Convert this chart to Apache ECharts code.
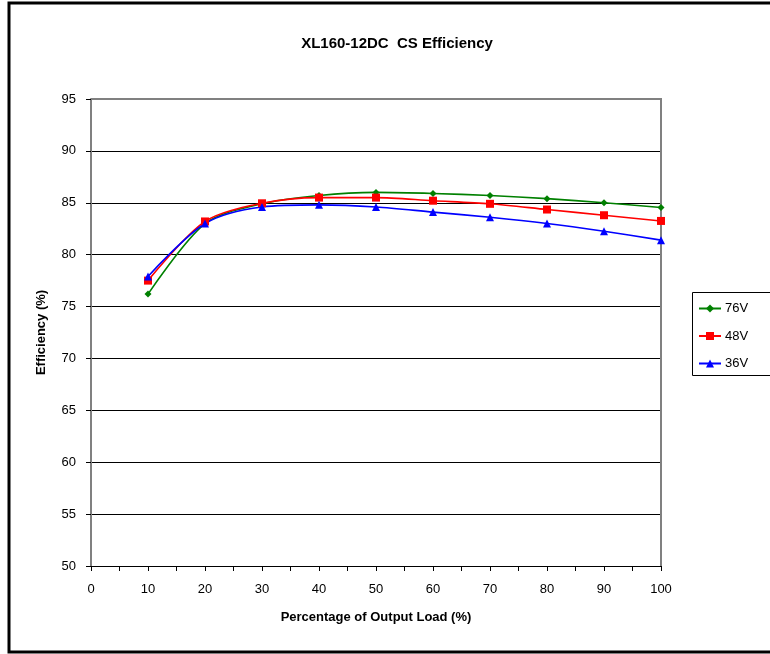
<!DOCTYPE html>
<html>
<head>
<meta charset="utf-8">
<script src="https://cdn.jsdelivr.net/npm/echarts@6/dist/echarts.min.js"></script>
<style>html,body{margin:0;padding:0;background:#fff}#c{width:770px;height:654px}</style>
</head>
<body>
<div id="c"></div>
<script>
const loads = [10, 20, 30, 40, 50, 60, 70, 80, 90, 100];
const v76 = [76.2, 83.0, 84.9, 85.7, 86.0, 85.9, 85.7, 85.4, 85.0, 84.55];
const v48 = [77.5, 83.2, 84.95, 85.5, 85.5, 85.2, 84.9, 84.35, 83.8, 83.25];
const v36 = [77.9, 83.0, 84.6, 84.8, 84.6, 84.1, 83.6, 83.0, 82.25, 81.4];
const seriesNames = ['76V', '48V', '36V'];
const titleText = 'XL160-12DC  CS Efficiency';
const xName = 'Percentage of Output Load (%)';
const yName = 'Efficiency (%)';

const pairs = arr => loads.map((x, i) => [x, arr[i]]);
const font = 'Arial, "Liberation Sans", sans-serif';
const chart = echarts.init(document.getElementById('c'), null, {renderer: 'canvas'});

function mkSeries(name, data, color, symbol, size) {
  return {
    name, type: 'line', data: pairs(data), smooth: 0.3,
    symbol, symbolSize: size, z: 3,
    lineStyle: {color, width: 1.6},
    itemStyle: {color, borderWidth: 0},
    emphasis: {disabled: true}
  };
}

chart.setOption({
  animation: false,
  backgroundColor: '#fff',
  title: {
    text: titleText, left: 392, top: 31, textAlign: 'center',
    textStyle: {fontFamily: font, fontSize: 15, fontWeight: 'bold', color: '#000'}
  },
  legend: {
    orient: 'vertical', left: 692, top: 293,
    itemWidth: 22, itemHeight: 10, itemGap: 14.5,
    padding: [9, 10, 8, 6],
    borderWidth: 0,
    textStyle: {fontFamily: font, fontSize: 13, color: '#000', padding: [0, 0, 0, -1]},
    data: seriesNames
  },
  grid: {left: 91, top: 99, right: 109, bottom: 88, containLabel: false},
  xAxis: {
    type: 'value', min: 0, max: 100, interval: 10,
    name: xName, nameLocation: 'middle', nameGap: 45,
    nameTextStyle: {fontFamily: font, fontSize: 13, fontWeight: 'bold', color: '#000'},
    axisLine: {show: true, lineStyle: {color: '#000', width: 1}},
    axisTick: {show: true, inside: false, length: 5, lineStyle: {color: '#000'}},
    minorTick: {show: true, splitNumber: 2, length: 5, lineStyle: {color: '#000'}},
    axisLabel: {fontFamily: font, fontSize: 13, color: '#000', margin: 17},
    splitLine: {show: false}
  },
  yAxis: {
    type: 'value', min: 50, max: 95, interval: 5,
    name: yName, nameLocation: 'middle', nameGap: 43, nameRotate: 90,
    nameTextStyle: {fontFamily: font, fontSize: 13, fontWeight: 'bold', color: '#000'},
    axisLine: {show: true, lineStyle: {color: '#808080', width: 2}},
    axisTick: {show: true, inside: false, length: 5, lineStyle: {color: '#000'}},
    axisLabel: {fontFamily: font, fontSize: 13, color: '#000', margin: 15},
    splitLine: {show: true, lineStyle: {color: '#000', width: 1}}
  },
  graphic: [
    {type: 'rect', z: 100, silent: true,
     shape: {x: 9, y: 3, width: 800, height: 649},
     style: {fill: null, stroke: '#000', lineWidth: 3}},
    {type: 'polyline', z: 1, silent: true,
     shape: {points: [[91, 99], [661, 99], [661, 566]]},
     style: {fill: null, stroke: '#808080', lineWidth: 2}},
    {type: 'rect', z: 1, silent: true,
     shape: {x: 692.5, y: 292.5, width: 120, height: 83},
     style: {fill: null, stroke: '#000', lineWidth: 1}}
  ],
  series: [
    mkSeries(seriesNames[0], v76, '#008000', 'diamond', 7),
    mkSeries(seriesNames[1], v48, '#ff0000', 'rect', 8),
    mkSeries(seriesNames[2], v36, '#0000ff', 'triangle', 8)
  ]
});
</script>
</body>
</html>
